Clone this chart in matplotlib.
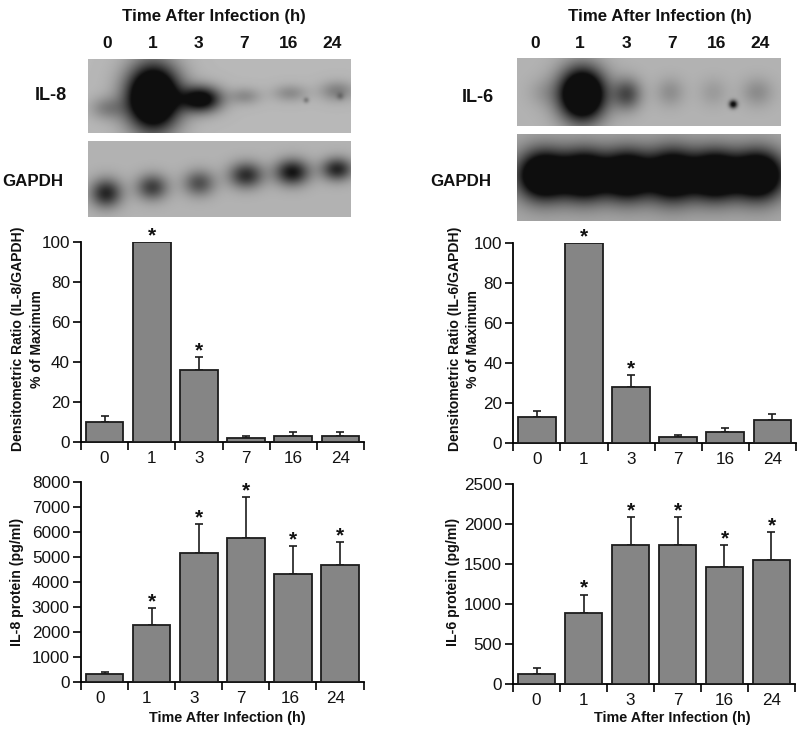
"""
Cytokine mRNA blots and protein levels after infection, IL-8 and IL-6 panels.
"""

import numpy as np
import matplotlib.pyplot as plt

plt.rcParams["font.family"] = ["Liberation Sans", "DejaVu Sans"]

W, H = 800, 732

hours = ["0", "1", "3", "7", "16", "24"]

# densitometry, % of maximum
il8_ratio = [10, 100, 36, 2, 3, 3]
il8_ratio_top = [13, 100, 42.5, 3.2, 4.8, 5]
il8_ratio_stars = [1, 2]
il6_ratio = [13, 100, 28, 3, 5.5, 11.5]
il6_ratio_top = [16, 100, 34, 4.2, 7.7, 14.7]
il6_ratio_stars = [1, 2]

# protein, pg/ml
il8_protein = [350, 2300, 5150, 5750, 4340, 4680]
il8_protein_top = [400, 2950, 6330, 7400, 5450, 5620]
il8_protein_stars = [1, 2, 3, 4, 5]
il6_protein = [130, 890, 1740, 1740, 1460, 1550]
il6_protein_top = [200, 1120, 2090, 2090, 1740, 1900]
il6_protein_stars = [1, 2, 3, 4, 5]

# blot bands: x, y, sigma x, sigma y, darkness (reference pixels)
il8_bands = [
    (107, 108, 12, 8, 0.2), (153, 97, 18, 22, 1.35), (201, 99, 14, 9, 0.8),
    (245, 96, 11, 6, 0.17), (290, 93, 12, 6, 0.17), (337, 91, 12, 7, 0.22),
    (340, 96, 2.5, 2.5, 0.15), (306, 100, 2, 2, 0.2),
]
il8_gapdh_bands = [
    (106, 193, 11, 10, 0.55), (152, 187, 11, 9, 0.45), (199, 183, 11, 9, 0.38),
    (246, 175, 12, 9, 0.52), (292, 172, 12, 9, 0.62), (337, 169, 11, 8, 0.55),
]
il6_bands = [
    (543, 92, 11, 10, 0.08), (582, 94, 16, 18, 1.25), (627, 94, 10, 11, 0.4),
    (670, 92, 10, 10, 0.14), (713, 92, 10, 10, 0.09), (757, 92, 11, 10, 0.15),
    (733, 104, 2.8, 2.8, 0.7),
]
il6_gapdh_bands = [
    (543, 175, 18, 17, 1.1), (585, 175, 17, 17, 1.05), (627, 175, 17, 17, 1.05),
    (672, 175, 18, 18, 1.05), (715, 175, 17, 17, 1.05), (758, 175, 18, 17, 1.1),
]


def px_axes(fig, x0, x1, y_top, y_bottom):
    return fig.add_axes([x0 / W, 1 - y_bottom / H, (x1 - x0) / W, (y_bottom - y_top) / H])


def blot(fig, box, bands, background):
    x0, x1, y0, y1 = box
    xx, yy = np.meshgrid(np.arange(x0, x1, 0.5), np.arange(y0, y1, 0.5))
    img = np.full(xx.shape, background, dtype=float)
    for bx, by, sx, sy, dark in bands:
        img -= dark * np.exp(-((xx - bx) / sx) ** 2 / 2 - ((yy - by) / sy) ** 2 / 2)
    ax = px_axes(fig, x0, x1, y0, y1)
    ax.imshow(np.clip(img, 0.06, 1), cmap="gray", vmin=0, vmax=1, aspect="auto",
              extent=(x0, x1, y1, y0), interpolation="bilinear")
    ax.axis("off")


def bars(fig, box, values, tops, stars, ymax, yticks, label_pos):
    ax = px_axes(fig, *box)
    pos = np.arange(len(values))
    ax.bar(pos, values, width=0.8, color="#858585", edgecolor="#1c1c1c", linewidth=1.3, zorder=3)
    for p, v, t in zip(pos, values, tops):
        if t > v:
            ax.errorbar(p, v, yerr=[[0], [t - v]], color="#1c1c1c", elinewidth=1.2,
                        capsize=3, capthick=1.2, zorder=2, clip_on=False)
    for s in stars:
        ax.annotate("*", (pos[s], tops[s]), xytext=(0, 0.5), textcoords="offset points",
                    ha="center", va="baseline", fontsize=15, fontweight="bold", color="#111111",
                    annotation_clip=False)
    ax.set_xlim(-0.5, 5.5)
    ax.set_ylim(0, ymax)
    ax.patch.set_alpha(0)
    ax.spines["top"].set_visible(False)
    ax.spines["right"].set_visible(False)
    ax.spines["left"].set_linewidth(1.3)
    ax.spines["bottom"].set_linewidth(1.3)
    ax.set_xticks(np.arange(-0.5, 6, 1))
    ax.set_xticklabels([])
    ax.set_xticks(label_pos, hours, minor=True)
    ax.tick_params(axis="x", which="major", length=5.5, width=1.2, direction="out")
    ax.tick_params(axis="x", which="minor", length=0, pad=6.5, labelsize=12.3, labelcolor="#111111")
    ax.set_yticks(yticks)
    ax.tick_params(axis="y", length=6, width=1.2, pad=2, labelsize=12.3, labelcolor="#111111")
    return ax


fig = plt.figure(figsize=(W / 100, H / 100), dpi=100)


def label(x, y, s, size=12, rotation=0):
    fig.text(x / W, 1 - y / H, s, ha="center", va="center", fontsize=size,
             fontweight="bold", rotation=rotation, color="#111111")


blot(fig, (88, 351, 59, 133), il8_bands, 0.72)
blot(fig, (88, 351, 141, 217), il8_gapdh_bands, 0.70)
blot(fig, (517, 781, 58, 126), il6_bands, 0.70)
blot(fig, (517, 781, 134, 221), il6_gapdh_bands, 0.66)

label(214, 16, "Time After Infection (h)", 12.2)
label(660, 16, "Time After Infection (h)", 12.2)
for x, h in zip([107, 153, 198, 244, 289, 332], hours):
    label(x, 43, h, 12.5)
for x, h in zip([535, 580, 626, 672, 717, 760], hours):
    label(x, 44, h, 12.5)
label(51, 96, "IL-8", 13)
label(33, 182, "GAPDH", 12.2)
label(478, 97, "IL-6", 13)
label(461, 182, "GAPDH", 12.2)

bars(fig, (81, 364, 242, 442), il8_ratio, il8_ratio_top, il8_ratio_stars, 100,
     [0, 20, 40, 60, 80, 100], [0, 1, 2, 3, 4, 5])
bars(fig, (513.3, 796, 243, 443), il6_ratio, il6_ratio_top, il6_ratio_stars, 100,
     [0, 20, 40, 60, 80, 100], [0, 1, 2, 3, 4, 5])
bars(fig, (81, 363.5, 482, 682.3), il8_protein, il8_protein_top, il8_protein_stars, 8000,
     list(range(0, 8001, 1000)), [-0.1, 0.9, 1.9, 2.9, 3.95, 4.9])
bars(fig, (513, 795, 484, 684.3), il6_protein, il6_protein_top, il6_protein_stars, 2500,
     [0, 500, 1000, 1500, 2000, 2500], [0, 1, 2, 3, 4, 5])

label(18, 339, "Densitometric Ratio (IL-8/GAPDH)", 10.1, 90)
label(37, 339, "% of Maximum", 10.1, 90)
label(455, 339, "Densitometric Ratio (IL-6/GAPDH)", 10.1, 90)
label(473, 339, "% of Maximum", 10.1, 90)
label(17, 582, "IL-8 protein (pg/ml)", 10.2, 90)
label(453, 582, "IL-6 protein (pg/ml)", 10.2, 90)
label(227, 718, "Time After Infection (h)", 10.4)
label(672, 718, "Time After Infection (h)", 10.4)

fig.savefig("out.png", dpi=100)
